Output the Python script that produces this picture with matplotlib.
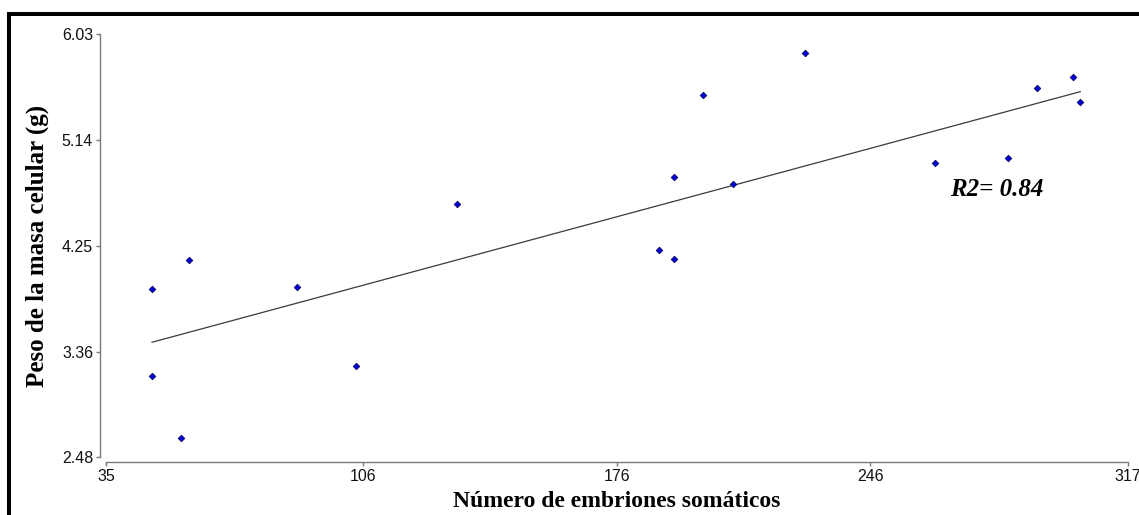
import matplotlib.pyplot as plt
from matplotlib.patches import Rectangle

# Somatic embryos counted vs. fresh weight of the cell mass
embriones = [47.7, 47.7, 55.7, 57.8, 87.8, 103.9, 131.8, 187.7, 191.9,
             191.9, 199.9, 208.0, 227.8, 263.8, 284.0, 292.1, 301.9, 303.9]
peso = [3.89, 3.16, 2.64, 4.13, 3.91, 3.24, 4.60, 4.22, 4.14,
        4.83, 5.52, 4.77, 5.87, 4.95, 4.99, 5.58, 5.67, 5.46]

# Fitted trend line end points
tendencia_x = [47.7, 303.9]
tendencia_y = [3.443, 5.546]
r2 = 0.84

x_ticks = [35, 106, 176, 246, 317]
y_ticks = [2.48, 3.36, 4.25, 5.14, 6.03]

fig = plt.figure(figsize=(11.39, 5.15), dpi=100)
W, H = 1139, 515
ax = fig.add_axes([106 / W, 1 - 457 / H, (1127.7 - 106) / W, (457 - 34) / H])

ax.plot(tendencia_x, tendencia_y, color='#3a3a3a', lw=0.9, zorder=2)
ax.plot(embriones, peso, linestyle='none', marker='D', markersize=3.4,
        markerfacecolor='#0000d8', markeredgecolor='#000050',
        markeredgewidth=0.5, zorder=3)

ax.set_xlim(35, 317)
ax.set_ylim(2.48, 6.03)
ax.set_xticks(x_ticks)
ax.set_yticks(y_ticks)
ax.set_xticklabels([str(t) for t in x_ticks])
ax.set_yticklabels([f'{t:.2f}' for t in y_ticks])

for side in ['top', 'right']:
    ax.spines[side].set_visible(False)
ax.spines['left'].set_position(('outward', 4.3))
ax.spines['bottom'].set_position(('outward', 3.8))
for side in ['left', 'bottom']:
    ax.spines[side].set_color('#7a7a7a')
    ax.spines[side].set_linewidth(1.0)

ax.tick_params(axis='both', direction='out', length=3, width=1.0,
               color='#7a7a7a', labelsize=11.5, pad=2, labelcolor='#111111')
for lbl in ax.get_xticklabels() + ax.get_yticklabels():
    lbl.set_family('Liberation Sans')

ax.set_xlabel('Número de embriones somáticos', family='Liberation Serif',
              fontsize=17, fontweight='bold', labelpad=5)
ax.set_ylabel('Peso de la masa celular (g)', family='Liberation Serif',
              fontsize=18, fontweight='bold', labelpad=9)

ax.text(268, 4.727, f'R2= {r2:.2f}', family='Liberation Serif',
        fontsize=18, fontweight='bold', fontstyle='italic',
        ha='left', va='center')

# heavy black frame running off the right and bottom edges
fig.patches.append(Rectangle((8.8 / W, -0.5), 2.0, 0.5 + (1 - 13.7 / H),
                             transform=fig.transFigure, fill=False,
                             edgecolor='black', linewidth=2.9, clip_on=False))

fig.savefig('out.png', dpi=100)
